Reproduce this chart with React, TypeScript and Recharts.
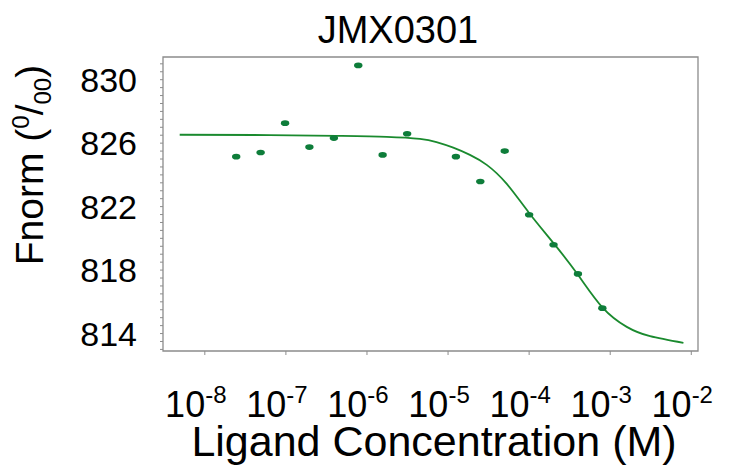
import { ComposedChart, Line, ReferenceArea, Scatter, XAxis, YAxis } from 'recharts';

// ligand titration (M) and measured Fnorm (per mille)
const concentrations = [
  2.44e-8, 4.88e-8, 9.77e-8, 1.95e-7, 3.91e-7, 7.81e-7, 1.56e-6, 3.13e-6,
  1.25e-5, 2.5e-5, 5e-5, 1e-4, 2e-4, 4e-4, 8e-4,
];
const fnorm = [
  825.15, 825.41, 827.26, 825.75, 826.32, 830.9, 825.26, 826.59,
  825.15, 823.58, 825.5, 821.49, 819.6, 817.76, 815.6,
];

// fitted curve
const fitConcentrations = [
  4.9e-9, 6.3e-8, 4.2e-7, 1.75e-6, 4.5e-6, 7.2e-6, 1.16e-5, 1.86e-5, 3.0e-5,
  5.3e-5, 1e-4, 2e-4, 4e-4, 8e-4, 1.6e-3, 3.1e-3, 8.0e-3,
];
const fitFnorm = [
  826.53, 826.51, 826.46, 826.4, 826.27, 826.07, 825.72, 825.26, 824.63,
  823.43, 821.6, 819.7, 817.7, 815.65, 814.42, 813.83, 813.41,
];

const xTicks = [1e-8, 1e-7, 1e-6, 1e-5, 1e-4, 1e-3, 1e-2];
const yLabels = [814, 818, 822, 826, 830];

const X_MIN = 3.05e-9;
const X_MAX = 0.0121;
const Y_MIN = 812.9;
const Y_MAX = 831.43;

const FONT = 'Liberation Sans, Arial, sans-serif';
const AXIS = '#8c8c8c';

const yTicks: number[] = [];
for (let v = 813; v <= 831; v += 0.5) yTicks.push(v);

const points = concentrations.map((c, i) => ({ x: c, y: fnorm[i] }));
const fit = fitConcentrations.map((c, i) => ({ x: c, y: fitFnorm[i] }));

const XTick = (props: any) => {
  const { x, payload } = props;
  const exp = Math.round(Math.log10(payload.value));
  return (
    <text x={x - 9} y={417} textAnchor="middle" fontFamily={FONT} fontSize={36} fill="#000">
      10
      <tspan dy={-14} fontSize={24}>{exp}</tspan>
    </text>
  );
};

const YTick = (props: any) => {
  const { y, payload } = props;
  if (!yLabels.includes(payload.value)) return null;
  return (
    <text x={137} y={y + 12} textAnchor="end" fontFamily={FONT} fontSize={34} fill="#000">
      {payload.value}
    </text>
  );
};

const Dot = (props: any) => {
  const { cx, cy } = props;
  return <ellipse cx={cx} cy={cy} rx={4.2} ry={2.8} fill="#0e7d3a" />;
};

export default function App() {
  return (
    <div style={{ position: 'absolute', left: 0, top: 0 }}>
      <ComposedChart width={730} height={467} margin={{ top: 57, right: 32, bottom: 0, left: 0 }}>
        <XAxis
          dataKey="x"
          type="number"
          scale="log"
          domain={[X_MIN, X_MAX]}
          allowDataOverflow
          ticks={xTicks}
          interval={0}
          height={116}
          axisLine={false}
          tickLine={{ stroke: AXIS }}
          tickSize={4}
          tick={<XTick />}
        />
        <YAxis
          dataKey="y"
          type="number"
          domain={[Y_MIN, Y_MAX]}
          allowDataOverflow
          ticks={yTicks}
          interval={0}
          width={163}
          axisLine={false}
          tickLine={{ stroke: AXIS }}
          tickSize={3}
          tick={<YTick />}
        />
        <ReferenceArea
          x1={X_MIN}
          x2={X_MAX}
          y1={Y_MIN}
          y2={Y_MAX}
          fill="none"
          stroke={AXIS}
          strokeWidth={1.3}
          ifOverflow="visible"
        />
        <Line
          data={fit}
          dataKey="y"
          type="natural"
          stroke="#1a8a2e"
          strokeWidth={1.8}
          dot={false}
          activeDot={false}
          isAnimationActive={false}
        />
        <Scatter data={points} dataKey="y" shape={<Dot />} isAnimationActive={false} />
        <text x={398} y={43} textAnchor="middle" fontFamily={FONT} fontSize={38} fill="#000">
          JMX0301
        </text>
        <text x={434} y={456} textAnchor="middle" fontFamily={FONT} fontSize={43} fill="#000">
          Ligand Concentration (M)
        </text>
        <text
          transform="rotate(-90)"
          x={-165}
          y={43}
          textAnchor="middle"
          fontFamily={FONT}
          fontSize={39}
          fill="#000"
        >
          Fnorm (
          <tspan dy={-14} fontSize={24}>0</tspan>
          <tspan dy={14}>/</tspan>
          <tspan dy={8} fontSize={24}>00</tspan>
          <tspan dy={-8}>)</tspan>
        </text>
      </ComposedChart>
    </div>
  );
}
